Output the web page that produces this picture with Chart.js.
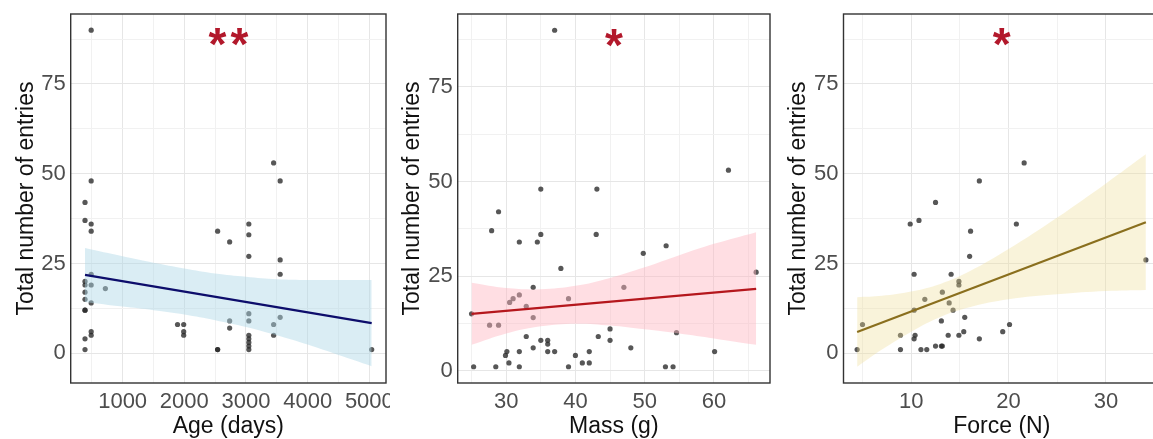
<!DOCTYPE html>
<html>
<head>
<meta charset="utf-8">
<script src="https://cdn.jsdelivr.net/npm/chart.js@4.4.0/dist/chart.umd.min.js"></script>
<style>
  html, body { margin: 0; padding: 0; background: #fff; overflow: hidden; }
  body { width: 1153px; height: 439px; position: relative; }
  canvas { position: absolute; top: 0; display: block; }
</style>
</head>
<body>
<canvas id="age" width="390" height="439" style="left:0px"></canvas>
<canvas id="mass" width="388" height="439" style="left:386px"></canvas>
<canvas id="force" width="392" height="439" style="left:772px"></canvas>
<script>
// ---- Age (days) ----
var ageX = [390, 390, 390, 390, 390, 390, 390, 390, 390, 390,
            490, 490, 490, 490, 490, 490, 490, 490, 490,
            720, 1890, 1990, 1990, 1990,
            2540, 2540, 2540, 2735, 2735, 2735,
            3046, 3046, 3046, 3046, 3046, 3046, 3046, 3046, 3046, 3046,
            3448, 3448, 3448, 3554, 3554, 3554, 3554, 5038];
var ageY = [42, 37, 20, 19, 17, 15, 12, 12, 4, 1,
            90, 48, 36, 34, 22, 19, 14, 6, 5,
            18, 8, 8, 6, 5,
            34, 1, 1, 31, 9, 7,
            36, 33, 27, 11, 9, 5, 4, 3, 2, 1,
            53, 8, 5, 48, 26, 22, 10, 1];
var ageFitX = [390, 5038];
var ageFitY = [21.8, 8.4];
var ageBandX = [390, 1000, 1500, 2000, 2500, 3000, 3500, 4000, 4500, 5038];
var ageBandHi = [29.3, 27.0, 25.2, 23.6, 22.2, 21.3, 20.6, 20.4, 20.4, 20.4];
var ageBandLo = [14.3, 13.0, 12.0, 10.8, 9.2, 7.3, 5.0, 2.4, -0.5, -3.6];
var ageTicks = [1000, 2000, 3000, 4000, 5000];

// ---- Mass (g) ----
var massX = [25.0, 25.3, 27.6, 27.9, 28.5, 28.9, 28.9, 29.9, 30.1, 30.4,
             30.5, 31.0, 31.9, 31.9, 31.9, 31.9, 32.9, 32.9, 33.9, 33.9,
             33.9, 34.5, 35.0, 35.0, 35.0, 36.0, 36.0, 36.0, 37.0, 37.0,
             37.9, 39.0, 39.0, 40.0, 41.0, 42.0, 42.0, 43.0, 43.1, 43.3,
             45.0, 45.0, 47.0, 48.0, 49.8, 53.0, 53.1, 54.1, 54.6, 60.1,
             62.1, 66.1];
var massY = [15, 1, 12, 37, 1, 42, 12, 4, 5, 2,
             18, 19, 34, 20, 5, 1, 17, 9, 22, 14,
             6, 34, 48, 36, 8, 8, 7, 5, 90, 5,
             27, 19, 1, 4, 2, 2, 5, 36, 48, 9,
             11, 8, 22, 6, 31, 1, 33, 1, 10, 5,
             53, 26];
var massFitX = [25, 66.1];
var massFitY = [15.0, 21.6];
var massBandX = [25, 30, 35, 40, 45, 50, 55, 60, 66.1];
var massBandHi = [23.2, 21.8, 21.5, 22.4, 24.5, 27.3, 30.5, 33.5, 36.6];
var massBandLo = [6.8, 9.8, 11.7, 12.4, 11.9, 10.9, 9.8, 8.5, 6.8];
var massTicks = [30, 40, 50, 60];

// ---- Force (N) ----
var forceX = [4.45, 5.0, 8.9, 8.9, 9.9, 10.3, 10.3, 10.4, 10.3, 10.8,
              11.0, 11.6, 11.4, 12.5, 12.5, 13.1, 13.2, 13.1, 13.2, 13.8,
              13.9, 14.1, 14.3, 14.9, 14.9, 14.9, 15.4, 15.5, 16.0, 16.1,
              17.0, 17.0, 19.4, 20.1, 20.8, 21.6, 34.1];
var forceY = [1, 8, 5, 1, 36, 22, 12, 5, 4, 37,
              1, 1, 15, 42, 2, 2, 2, 9, 17, 5,
              14, 22, 12, 20, 19, 5, 6, 10, 27, 34,
              48, 4, 6, 8, 36, 53, 26];
var forceFitX = [4.45, 34.1];
var forceFitY = [5.9, 36.5];
var forceBandX = [4.45, 7, 10, 13, 16, 20, 25, 30, 34.1];
var forceBandHi = [15.6, 16.0, 17.2, 19.3, 22.8, 29.0, 37.8, 47.3, 55.4];
var forceBandLo = [-3.8, 1.0, 6.0, 10.1, 12.8, 15.0, 16.4, 17.3, 17.6];
var forceTicks = [10, 20, 30];

var yTicks = [0, 25, 50, 75];
var yTitle = 'Total number of entries';
var sigMarks = ['**', '*', '*'];
var sigY = 88;

function pairs(xs, ys) {
    return xs.map(function (x, i) { return { x: x, y: ys[i] }; });
}

// major ticks plus the half-way minor lines between them
function withMinor(major) {
    var step = major[1] - major[0];
    var out = [major[0] - step / 2];
    major.forEach(function (v) { out.push(v); out.push(v + step / 2); });
    return out;
}

function axis(major, min, max, title, isY, axisSize, titlePad) {
    var all = withMinor(major).filter(function (v) { return v >= min && v <= max; });
    return {
        type: 'linear',
        position: isY ? 'left' : 'bottom',
        min: min,
        max: max,
        afterBuildTicks: function (scale) {
            scale.ticks = all.map(function (v) { return { value: v }; });
        },
        afterFit: function (scale) {
            // fixed axis size, and no extra room for overhanging labels
            if (isY) { scale.width = axisSize; } else { scale.height = axisSize; }
            scale.paddingLeft = 0;
            scale.paddingRight = 0;
            scale.paddingTop = 0;
            scale.paddingBottom = 0;
        },
        border: { display: false },
        grid: {
            drawTicks: false,
            lineWidth: 1,
            color: function (ctx) {
                return ctx.tick && major.indexOf(ctx.tick.value) >= 0 ? '#e6e6e6' : '#f1f1f1';
            }
        },
        ticks: {
            autoSkip: false,
            maxRotation: 0,
            padding: isY ? 5 : 6,
            color: '#4d4d4d',
            font: { family: 'Liberation Sans, Arial, sans-serif', size: 22 },
            callback: function (value) {
                return major.indexOf(value) >= 0 ? String(value) : '';
            }
        },
        title: {
            display: true,
            text: title,
            color: '#111',
            padding: titlePad,
            font: { family: 'Liberation Sans, Arial, sans-serif', size: 23, lineHeight: 1 }
        }
    };
}

var framePlugin = {
    id: 'frame',
    afterDraw: function (chart) {
        var a = chart.chartArea, ctx = chart.ctx;
        ctx.save();
        ctx.strokeStyle = '#333';
        ctx.lineWidth = 1.4;
        ctx.strokeRect(a.left, a.top, a.right - a.left, a.bottom - a.top);
        ctx.restore();
    }
};

var sigPlugin = {
    id: 'sig',
    afterDatasetsDraw: function (chart, args, opts) {
        var xs = chart.scales.x, ys = chart.scales.y, ctx = chart.ctx;
        var cx = xs.getPixelForValue((xs.min + xs.max) / 2);
        var cy = ys.getPixelForValue(opts.y);
        var n = opts.text.length, gap = 22;
        ctx.save();
        ctx.fillStyle = '#b2182b';
        ctx.font = 'bold 46px Liberation Sans, Arial, sans-serif';
        ctx.textAlign = 'center';
        ctx.textBaseline = 'middle';
        for (var i = 0; i < n; i++) {
            ctx.fillText(opts.text[i], cx + (i - (n - 1) / 2) * gap, cy + 10);
        }
        ctx.restore();
    }
};

function drawPanel(id, cfg) {
    var ctx = document.getElementById(id).getContext('2d');
    return new Chart(ctx, {
        type: 'scatter',
        data: {
            datasets: [
                {
                    label: 'fit',
                    data: pairs(cfg.fitX, cfg.fitY),
                    showLine: true,
                    borderColor: cfg.lineColor,
                    borderWidth: 2.2,
                    pointRadius: 0,
                    order: 1
                },
                {
                    label: 'upper',
                    data: pairs(cfg.bandX, cfg.bandHi),
                    showLine: true,
                    borderWidth: 0,
                    pointRadius: 0,
                    tension: 0.4,
                    backgroundColor: cfg.bandColor,
                    fill: '+1',
                    order: 2
                },
                {
                    label: 'lower',
                    data: pairs(cfg.bandX, cfg.bandLo),
                    showLine: true,
                    borderWidth: 0,
                    pointRadius: 0,
                    tension: 0.4,
                    fill: false,
                    order: 2
                },
                {
                    label: 'count',
                    data: pairs(cfg.x, cfg.y),
                    pointRadius: 2.6,
                    pointBorderWidth: 0,
                    pointBackgroundColor: 'rgba(40, 40, 40, 0.78)',
                    order: 3
                }
            ]
        },
        options: {
            responsive: false,
            animation: false,
            layout: { padding: { left: 0, right: cfg.padRight, top: 14, bottom: 0 } },
            plugins: {
                legend: { display: false },
                tooltip: { enabled: false },
                sig: { text: cfg.sig, y: sigY }
            },
            scales: {
                x: axis(cfg.xTicks, cfg.xMin, cfg.xMax, cfg.xTitle, false, 56, { top: 0, bottom: 1 }),
                y: axis(yTicks, cfg.yMin, cfg.yMax, yTitle, true, cfg.yAxisWidth, { top: 15.5, bottom: 0 })
            }
        },
        plugins: [framePlugin, sigPlugin]
    });
}

drawPanel('age', {
    x: ageX, y: ageY, fitX: ageFitX, fitY: ageFitY,
    bandX: ageBandX, bandHi: ageBandHi, bandLo: ageBandLo,
    xTicks: ageTicks, xMin: 158, xMax: 5270, yMin: -8.3, yMax: 94.5,
    xTitle: 'Age (days)', sig: sigMarks[0],
    lineColor: '#0d0d6b', bandColor: 'rgba(173, 216, 230, 0.45)',
    yAxisWidth: 70.7, padRight: 2
});

drawPanel('mass', {
    x: massX, y: massY, fitX: massFitX, fitY: massFitY,
    bandX: massBandX, bandHi: massBandHi, bandLo: massBandLo,
    xTicks: massTicks, xMin: 23, xMax: 68.1, yMin: -3.3, yMax: 94.3,
    xTitle: 'Mass (g)', sig: sigMarks[1],
    lineColor: '#b5171d', bandColor: 'rgba(255, 182, 193, 0.45)',
    yAxisWidth: 71.7, padRight: 1
});

drawPanel('force', {
    x: forceX, y: forceY, fitX: forceFitX, fitY: forceFitY,
    bandX: forceBandX, bandHi: forceBandHi, bandLo: forceBandLo,
    xTicks: forceTicks, xMin: 3.05, xMax: 35.55, yMin: -8.3, yMax: 94.5,
    xTitle: 'Force (N)', sig: sigMarks[2],
    lineColor: '#8a6f1e', bandColor: 'rgba(238, 221, 150, 0.35)',
    yAxisWidth: 71.5, padRight: 2
});
</script>
</body>
</html>
